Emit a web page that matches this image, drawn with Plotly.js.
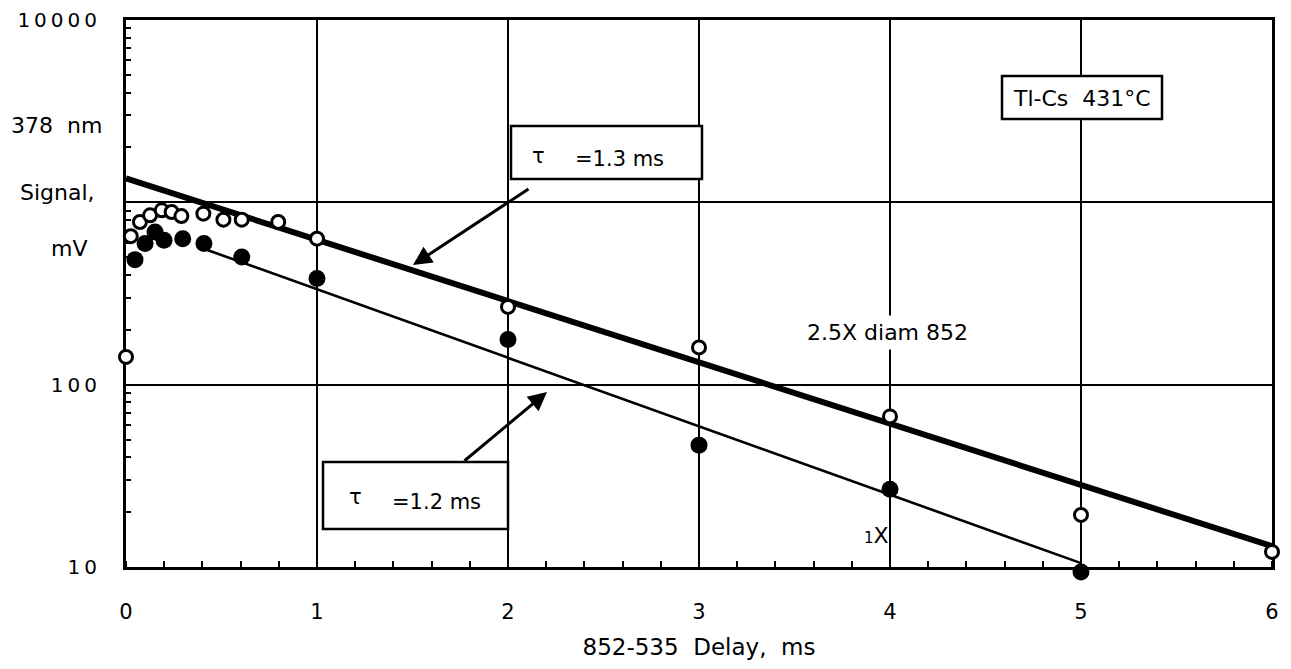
<!DOCTYPE html>
<html>
<head>
<meta charset="utf-8">
<script src="https://cdn.plot.ly/plotly-3.0.1.min.js"></script>
<style>
  html, body { margin: 0; padding: 0; background: #fff; }
  #chart { width: 1291px; height: 669px; }
</style>
</head>
<body>
<div id="chart"></div>
<script>
// ---- Data ----
// 2.5X diam 852 (open circles)
const xOpen = [0, 0.025, 0.073, 0.126, 0.187, 0.239, 0.29, 0.405, 0.51, 0.606, 0.797, 1.0, 2, 3, 4, 5, 6];
const yOpen = [142, 652, 780, 849, 904, 885, 841, 867, 803, 803, 780, 632, 267, 160, 67, 19.3, 12.1];
// 1X (filled circles)
const xFilled = [0.047, 0.1, 0.152, 0.199, 0.297, 0.408, 0.606, 1.0, 2, 3, 4, 5];
const yFilled = [485, 594, 687, 619, 632, 594, 501, 382, 177, 46.6, 26.7, 9.4];
// exponential fits
const xFitWide = [0, 6];
const yFitWide = [1352, 13];      // tau = 1.3 ms
const xFitNarrow = [0.4, 5];
const yFitNarrow = [560, 10.5];   // tau = 1.2 ms

// axis ticks
const xTicks = [0, 1, 2, 3, 4, 5, 6];
const xTickText = ['0', '1', '2', '3', '4', '5', '6'];
const yTicks = [10, 100, 1000, 10000];
const yTickText = ['1\u20090', '1\u20090\u20090', '', '1\u20090\u20090\u20090\u20090'];
const yMinor = [20,30,40,50,60,70,80,90,200,300,400,500,600,700,800,900,2000,3000,4000,5000,6000,7000,8000,9000];

// labels
const yTitleLines = ['378  nm', 'Signal,', 'mV'];
const xTitle = '852-535  Delay,  ms';
const tauWide = '=1.3 ms';
const tauNarrow = '=1.2 ms';
const sampleLabel = 'Tl-Cs  431°C';
const wideLabel = '2.5X diam 852';
const narrowLabel = '<span style="font-size:15px">1</span>X';

const FONT = 'DejaVu Sans, Liberation Sans, Arial, sans-serif';

// geometry of the plotting frame (pixels)
const L = 126, R = 1272, TOP = 20, AXB = 567, PB = 577;
const W = R - L, H = PB - TOP;
function px(x) { return (x - L) / W; }
function py(y) { return (PB - y) / H; }
const decadePx = (AXB - TOP) / 3;
const extra = (PB - AXB) / decadePx;

// the framed subplot (x/y) carries the axes; the data traces live on a
// transparent subplot (x2/y2) with the same scale laid over it
const traces = [
  { x: [], y: [], xaxis: 'x', yaxis: 'y', mode: 'markers', hoverinfo: 'skip', showlegend: false },
  { x: xFitWide, y: yFitWide, xaxis: 'x2', yaxis: 'y2', mode: 'lines', line: { color: '#000', width: 6 }, cliponaxis: false, hoverinfo: 'skip' },
  { x: xFitNarrow, y: yFitNarrow, xaxis: 'x2', yaxis: 'y2', mode: 'lines', line: { color: '#000', width: 2.6 }, cliponaxis: false, hoverinfo: 'skip' },
  { x: xOpen, y: yOpen, xaxis: 'x2', yaxis: 'y2', mode: 'markers', cliponaxis: false,
    marker: { symbol: 'circle', size: 13, color: '#fff', line: { color: '#000', width: 3 } } },
  { x: xFilled, y: yFilled, xaxis: 'x2', yaxis: 'y2', mode: 'markers', cliponaxis: false,
    marker: { symbol: 'circle', size: 17, color: '#000', line: { color: '#000', width: 0 } } }
];

const layout = {
  width: 1291, height: 669,
  margin: { l: L, r: 1291 - R, t: TOP, b: 669 - PB },
  paper_bgcolor: '#fff', plot_bgcolor: 'rgba(0,0,0,0)',
  showlegend: false,
  font: { family: FONT, color: '#000', size: 21 },
  xaxis: {
    type: 'linear', range: [0, 6], anchor: 'y', domain: [0, 1],
    tickmode: 'array', tickvals: xTicks, ticktext: xTickText,
    ticks: '', showgrid: true, gridcolor: '#000', gridwidth: 2,
    zeroline: false, showline: true, linecolor: '#000', linewidth: 3, mirror: true,
    tickfont: { family: FONT, size: 21, color: '#000' },
    ticklabelstandoff: 24,
    minor: { tickmode: 'linear', tick0: 0, dtick: 0.2, ticks: 'inside', ticklen: 6, tickwidth: 2, tickcolor: '#000', showgrid: false },
    title: { text: xTitle, font: { family: FONT, size: 23, color: '#000' }, standoff: 16 }
  },
  yaxis: {
    type: 'log', range: [1, 4], anchor: 'x', domain: [(PB - AXB) / H, 1],
    tickmode: 'array', tickvals: yTicks, ticktext: yTickText,
    ticks: '', showgrid: true, gridcolor: '#000', gridwidth: 2,
    zeroline: false, showline: true, linecolor: '#000', linewidth: 3, mirror: true,
    tickfont: { family: FONT, size: 20, color: '#000' },
    ticklabelstandoff: 22,
    minor: { tickmode: 'array', tickvals: yMinor, ticks: 'inside', ticklen: 5, tickwidth: 2, tickcolor: '#000', showgrid: false }
  },
  xaxis2: {
    type: 'linear', range: [0, 6], anchor: 'y2', domain: [0, 1],
    visible: false, showgrid: false, zeroline: false
  },
  yaxis2: {
    type: 'log', range: [1 - extra, 4], anchor: 'x2', domain: [0, 1],
    visible: false, showgrid: false, zeroline: false
  },
  shapes: [
    { type: 'rect', xref: 'paper', yref: 'paper', x0: px(511), x1: px(702), y0: py(179), y1: py(126),
      fillcolor: '#fff', line: { color: '#000', width: 2.5 }, layer: 'above' },
    { type: 'rect', xref: 'paper', yref: 'paper', x0: px(323), x1: px(508), y0: py(529), y1: py(462),
      fillcolor: '#fff', line: { color: '#000', width: 2.5 }, layer: 'above' },
    { type: 'rect', xref: 'paper', yref: 'paper', x0: px(1002), x1: px(1162), y0: py(119), y1: py(76),
      fillcolor: '#fff', line: { color: '#000', width: 2.5 }, layer: 'above' }
  ],
  annotations: [
    // y-axis title pieces
    { xref: 'paper', yref: 'paper', x: px(56), y: py(125), text: yTitleLines[0], showarrow: false, xanchor: 'center', yanchor: 'middle', font: { size: 22 } },
    { xref: 'paper', yref: 'paper', x: px(57), y: py(192), text: yTitleLines[1], showarrow: false, xanchor: 'center', yanchor: 'middle', font: { size: 22 } },
    { xref: 'paper', yref: 'paper', x: px(69), y: py(248), text: yTitleLines[2], showarrow: false, xanchor: 'center', yanchor: 'middle', font: { size: 22 } },
    // tau = 1.3 box text
    { xref: 'paper', yref: 'paper', x: px(538), y: py(156), text: 'τ', showarrow: false, xanchor: 'center', yanchor: 'middle', font: { size: 21 } },
    { xref: 'paper', yref: 'paper', x: px(619), y: py(159), text: tauWide, showarrow: false, xanchor: 'center', yanchor: 'middle', font: { size: 21 } },
    // tau = 1.2 box text
    { xref: 'paper', yref: 'paper', x: px(355), y: py(497), text: 'τ', showarrow: false, xanchor: 'center', yanchor: 'middle', font: { size: 21 } },
    { xref: 'paper', yref: 'paper', x: px(436), y: py(502), text: tauNarrow, showarrow: false, xanchor: 'center', yanchor: 'middle', font: { size: 21 } },
    // arrows
    { xref: 'paper', yref: 'paper', x: px(413), y: py(265), ax: 117, ay: -77, text: '', showarrow: true,
      arrowhead: 2, arrowsize: 1.25, arrowwidth: 3, arrowcolor: '#000', standoff: 0, startstandoff: 0 },
    { xref: 'paper', yref: 'paper', x: px(547), y: py(392), ax: -84, ay: 70, text: '', showarrow: true,
      arrowhead: 2, arrowsize: 1.25, arrowwidth: 3, arrowcolor: '#000', standoff: 0, startstandoff: 0 },
    // sample label
    { xref: 'paper', yref: 'paper', x: px(1082), y: py(98), text: sampleLabel, showarrow: false, xanchor: 'center', yanchor: 'middle', font: { size: 22 } },
    // series labels
    { xref: 'paper', yref: 'paper', x: px(887), y: py(332), text: wideLabel, showarrow: false, xanchor: 'center', yanchor: 'middle',
      bgcolor: '#fff', borderpad: 4, font: { size: 22 } },
    { xref: 'paper', yref: 'paper', x: px(876), y: py(535), text: narrowLabel, showarrow: false, xanchor: 'center', yanchor: 'middle', font: { size: 22 } }
  ]
};

Plotly.newPlot('chart', traces, layout, { staticPlot: true, displayModeBar: false });
</script>
</body>
</html>
